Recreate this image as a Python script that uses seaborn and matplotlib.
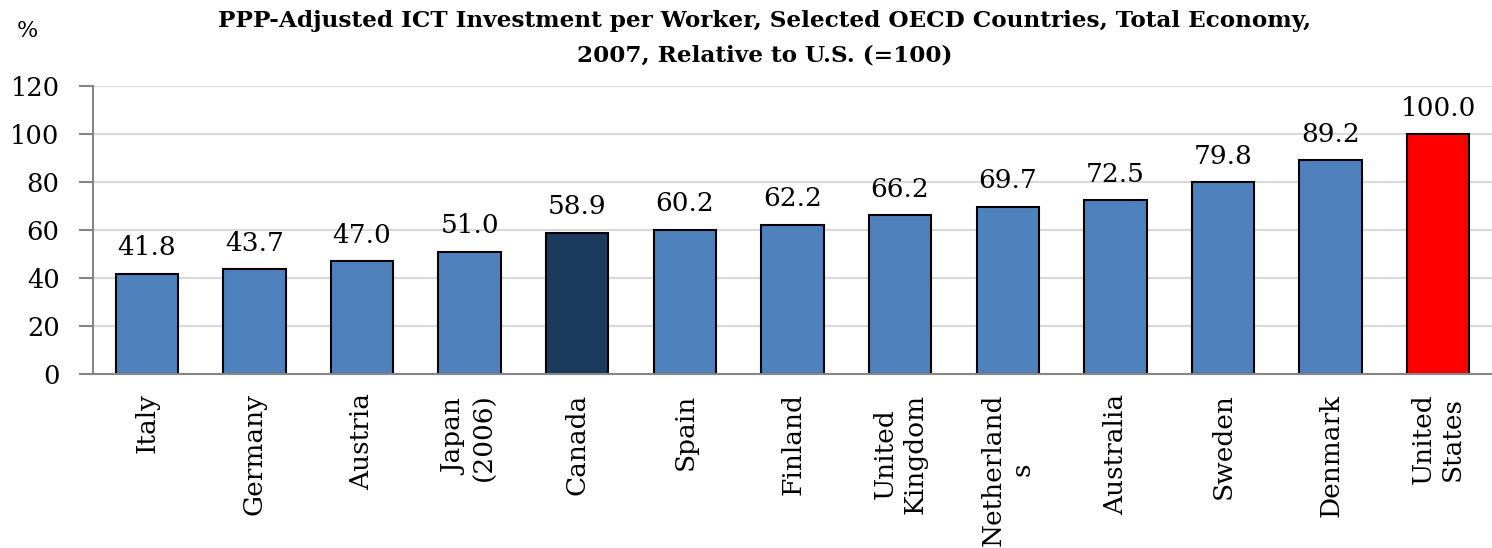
import matplotlib
matplotlib.use("Agg")
import matplotlib.pyplot as plt
import seaborn as sns
import pandas as pd

countries = ["Italy", "Germany", "Austria", "Japan\n(2006)", "Canada", "Spain",
             "Finland", "United\nKingdom", "Netherland\ns", "Australia",
             "Sweden", "Denmark", "United\nStates"]
values = [41.8, 43.7, 47.0, 51.0, 58.9, 60.2, 62.2, 66.2, 69.7, 72.5, 79.8, 89.2, 100.0]

base_color = "#4f81bd"
highlight = {"Canada": "#1b3a5e", "United\nStates": "#ff0000"}
palette = {c: highlight.get(c, base_color) for c in countries}

df = pd.DataFrame({"country": countries, "value": values})

sns.set_theme(style="white")
plt.rcParams["font.family"] = ["DejaVu Serif"]
plt.rcParams["text.color"] = "black"
plt.rcParams["xtick.color"] = "black"
plt.rcParams["ytick.color"] = "black"

fig = plt.figure(figsize=(14.92, 5.48), dpi=100)
ax = fig.add_axes([93 / 1492, 1 - 374 / 548, 1399 / 1492, 288 / 548])

sns.barplot(data=df, x="country", y="value", hue="country", palette=palette,
            order=countries, width=0.58, edgecolor="black", linewidth=1.5,
            saturation=1, legend=False, ax=ax)

for i, v in enumerate(values):
    ax.text(i, v + 7.6, f"{v:.1f}", ha="center", va="baseline", fontsize=19,
            color="black")

ax.set_ylim(0, 120)
ax.set_yticks(range(0, 121, 20))
ax.set_xlim(-0.5, len(countries) - 0.5)
ax.yaxis.grid(True, color="#d9d9d9", linewidth=1.5)
ax.set_axisbelow(True)
ax.set_xlabel("")
ax.set_ylabel("")
for side in ["top", "right"]:
    ax.spines[side].set_visible(False)
for side in ["left", "bottom"]:
    ax.spines[side].set_color("#868686")
    ax.spines[side].set_linewidth(1.5)

ax.tick_params(axis="y", left=True, length=10, width=1.5, color="#868686",
               labelcolor="black", labelsize=18.5, pad=14)
ax.tick_params(axis="x", bottom=False, labelcolor="black", labelsize=19, pad=8)
ax.set_xticks(range(len(countries)))
ax.set_xticklabels(countries, rotation=90, va="top", ha="center",
                   multialignment="center")

fig.text(765 / 1492, 1 - 10 / 548,
         "PPP-Adjusted ICT Investment per Worker, Selected OECD Countries, Total Economy,\n2007, Relative to U.S. (=100)",
         ha="center", va="top", fontsize=16.7, fontweight="bold", linespacing=1.75,
         color="black")
fig.text(17 / 1492, 1 - 31 / 548, "%", ha="left", va="center", fontsize=16,
         color="black")

fig.savefig("out.png", dpi=100)
